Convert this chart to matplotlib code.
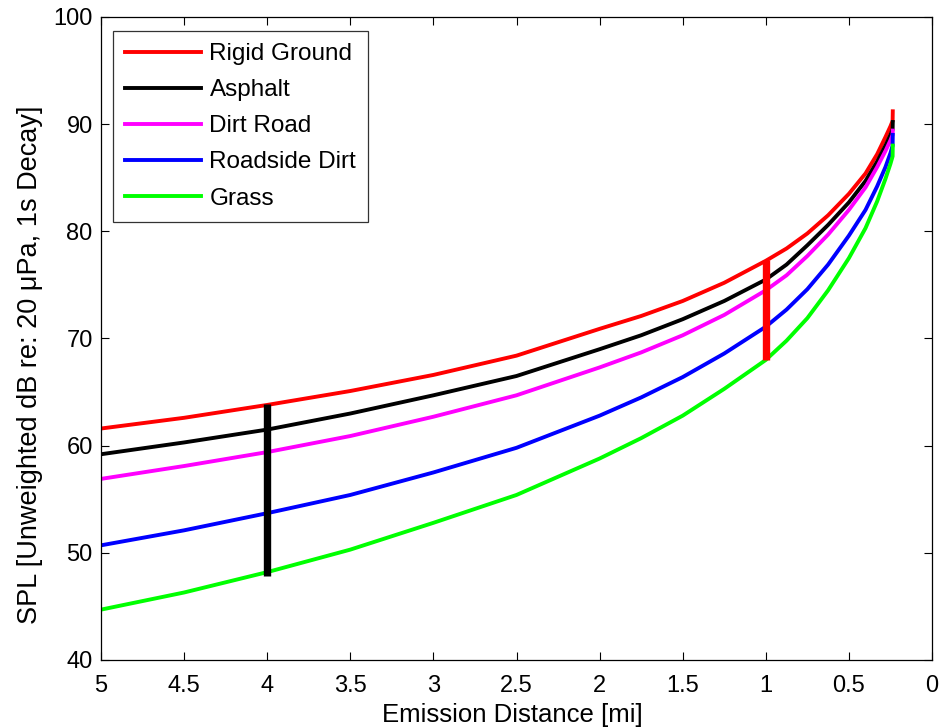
import matplotlib
matplotlib.use("Agg")
import matplotlib.pyplot as plt

plt.rcParams['font.family'] = ['Liberation Sans', 'DejaVu Sans']

distance = [5.0, 4.5, 4.0, 3.5, 3.0, 2.5, 2.0, 1.75, 1.5, 1.25, 1.0, 0.875, 0.75,
            0.625, 0.5, 0.4, 0.33, 0.28, 0.25, 0.237, 0.236]
rigid = [61.6, 62.6, 63.8, 65.1, 66.6, 68.4, 70.9, 72.1, 73.5, 75.2, 77.25, 78.4, 79.8,
         81.5, 83.5, 85.4, 87.2, 88.8, 89.8, 90.3, 91.2]
asphalt = [59.2, 60.3, 61.5, 63.0, 64.7, 66.5, 69.0, 70.3, 71.8, 73.5, 75.5, 76.9, 78.7,
           80.6, 82.7, 84.7, 86.5, 88.0, 89.0, 89.5, 90.2]
dirt_road = [56.9, 58.1, 59.4, 60.9, 62.7, 64.7, 67.3, 68.7, 70.3, 72.2, 74.5, 75.9, 77.7,
             79.7, 82.0, 84.1, 86.0, 87.5, 88.5, 89.0, 89.4]
roadside = [50.7, 52.1, 53.7, 55.4, 57.5, 59.8, 62.8, 64.5, 66.4, 68.6, 71.1, 72.7, 74.6,
            76.9, 79.6, 82.0, 84.2, 86.0, 87.3, 88.0, 89.0]
grass = [44.7, 46.3, 48.2, 50.3, 52.8, 55.4, 58.8, 60.7, 62.8, 65.3, 68.0, 69.8, 71.9,
         74.5, 77.5, 80.3, 82.8, 84.9, 86.3, 87.0, 88.0]

series_names = ['Rigid Ground', 'Asphalt', 'Dirt Road', 'Roadside Dirt', 'Grass']
series_values = [rigid, asphalt, dirt_road, roadside, grass]
series_colors = ['#ff0000', '#000000', '#ff00ff', '#0000ff', '#00ff00']

bar_x = [4.0, 1.0]
bar_low = [47.8, 68.0]
bar_high = [63.9, 77.3]
bar_colors = ['#000000', '#ff0000']

fig = plt.figure(figsize=(9.39, 7.28), dpi=100)
ax = fig.add_axes([101/939, 1 - 660/728, (932-101)/939, (660-17)/728])

for name, vals, col in zip(series_names, series_values, series_colors):
    ax.plot(distance, vals, color=col, lw=2.8, label=name)

for bx, lo, hi, col in zip(bar_x, bar_low, bar_high, bar_colors):
    ax.plot([bx, bx], [lo, hi], color=col, lw=5.3, solid_capstyle='butt')

ax.set_xlim(5, 0)
ax.set_ylim(40, 100)
ax.set_xticks([5, 4.5, 4, 3.5, 3, 2.5, 2, 1.5, 1, 0.5, 0])
ax.set_xticklabels(['5', '4.5', '4', '3.5', '3', '2.5', '2', '1.5', '1', '0.5', '0'])
ax.set_yticks([40, 50, 60, 70, 80, 90, 100])
ax.tick_params(direction='in', length=6, width=0.8, top=True, right=True,
               labelsize=17)
ax.tick_params(axis='x', pad=11)
ax.tick_params(axis='y', pad=6)
for s in ax.spines.values():
    s.set_linewidth(0.9)

ax.set_xlabel('Emission Distance [mi]', fontsize=18.5, labelpad=5)
ax.xaxis.set_label_coords(0.495, -0.0)
ax.xaxis.label.set_verticalalignment('top')
ax.xaxis.set_label_coords(0.495, -(703 - 660) / 643)
ax.set_ylabel('SPL [Unweighted dB re: 20 μPa, 1s Decay]', fontsize=19.5)
ax.yaxis.set_label_coords(-(101 - 43) / 831, (660 - 365) / 643)

leg = ax.legend(loc='upper left', bbox_to_anchor=((113-101)/831, 1 - (31-17)/643),
                fontsize=17.5, frameon=True, fancybox=False, edgecolor='black',
                handlelength=3.1, handletextpad=0.37, labelspacing=0.58,
                borderpad=0.5, borderaxespad=0)
leg.get_frame().set_linewidth(0.9)
for line in leg.get_lines():
    line.set_linewidth(2.8)

fig.savefig('out.png', dpi=100, facecolor='white')
